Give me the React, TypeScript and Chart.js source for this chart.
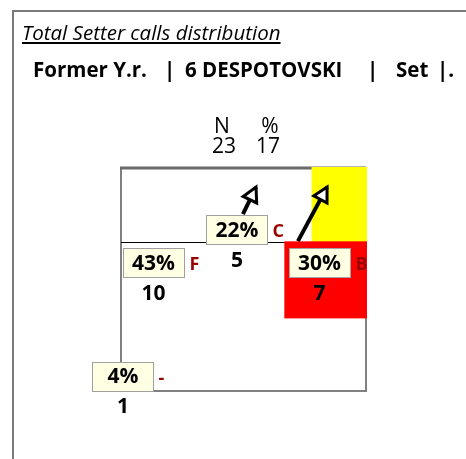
import { useEffect, useRef } from "react";
import { Chart, registerables } from "chart.js";

Chart.register(...registerables);

// Court is 9 m wide and 9 m deep; y = 9 is the net, y = 0 the end line.
const courtWidth = 9;
const courtDepth = 9;
const attackLineY = 6;

// Setter call zones
const zoneLetters = ["F", "C", "B", "-"];
const zonePercents = [43, 22, 30, 4];
const zoneCounts = [10, 5, 7, 1];
const zoneLabelX = [1.19, 4.26, 7.29, 0.07];
const zoneLabelY = [5.17, 6.5, 5.17, 0.59];

// Direction arrows
const arrowFromX = [4.48, 6.5];
const arrowFromY = [7.14, 6.05];
const arrowToX = [4.96, 7.57];
const arrowToY = [8.23, 8.23];

// Highlighted areas as [x0, x1, y0, y1]
const yellowArea = [7, 9, 6, 9];
const redArea = [6, 9, 2.93, 6];

const totalN = 23;
const totalPct = 17;

const FONT = '"Open Sans", "Noto Sans", sans-serif';

const courtPlugin = {
  id: "court",
  beforeDatasetsDraw(chart: any) {
    const { ctx, scales } = chart;
    const px = (v: number) => scales.x.getPixelForValue(v);
    const py = (v: number) => scales.y.getPixelForValue(v);
    ctx.save();
    // outline: sides and end line
    ctx.strokeStyle = "#808080";
    ctx.lineWidth = 2;
    ctx.beginPath();
    ctx.moveTo(px(0), py(courtDepth));
    ctx.lineTo(px(0), py(0));
    ctx.lineTo(px(courtWidth), py(0));
    ctx.lineTo(px(courtWidth), py(courtDepth));
    ctx.stroke();
    // net
    ctx.strokeStyle = "#6a6a6a";
    ctx.lineWidth = 3;
    ctx.beginPath();
    ctx.moveTo(px(0) - 1, py(courtDepth));
    ctx.lineTo(px(courtWidth), py(courtDepth));
    ctx.stroke();
    // attack line
    ctx.strokeStyle = "#000";
    ctx.lineWidth = 1;
    ctx.beginPath();
    ctx.moveTo(px(0), Math.round(py(attackLineY)) + 0.5);
    ctx.lineTo(px(courtWidth), Math.round(py(attackLineY)) + 0.5);
    ctx.stroke();
    // highlighted areas
    const fillArea = (a: number[], color: string) => {
      ctx.fillStyle = color;
      const x0 = px(a[0]);
      const x1 = px(a[1]) + 1;
      const y0 = py(a[3]) - 1;
      const y1 = py(a[2]);
      ctx.fillRect(x0, y0, x1 - x0, y1 - y0);
    };
    fillArea(yellowArea, "#ffff00");
    fillArea(redArea, "#ff0000");
    ctx.restore();
  },
  afterDatasetsDraw(chart: any) {
    const { ctx, scales } = chart;
    const px = (v: number) => scales.x.getPixelForValue(v);
    const py = (v: number) => scales.y.getPixelForValue(v);
    ctx.save();
    // arrow heads
    for (let i = 0; i < arrowToX.length; i++) {
      const x1 = px(arrowToX[i]);
      const y1 = py(arrowToY[i]);
      const x0 = px(arrowFromX[i]);
      const y0 = py(arrowFromY[i]);
      const len = Math.hypot(x1 - x0, y1 - y0);
      const ux = (x1 - x0) / len;
      const uy = (y1 - y0) / len;
      const headLen = 14;
      const half = 7.5;
      const bx = x1 - ux * headLen;
      const by = y1 - uy * headLen;
      ctx.beginPath();
      ctx.moveTo(x1, y1);
      ctx.lineTo(bx - uy * half, by + ux * half);
      ctx.lineTo(bx + uy * half, by - ux * half);
      ctx.closePath();
      ctx.fillStyle = "#fff";
      ctx.fill();
      ctx.lineJoin = "miter";
      ctx.lineWidth = 3;
      ctx.strokeStyle = "#000";
      ctx.stroke();
    }
    // zone labels
    const boxW = 61;
    const boxH = 29;
    ctx.textBaseline = "middle";
    for (let i = 0; i < zonePercents.length; i++) {
      const cx = px(zoneLabelX[i]);
      const cy = py(zoneLabelY[i]);
      const left = Math.round(cx - boxW / 2) + 0.5;
      const top = Math.round(cy - boxH / 2) + 0.5;
      ctx.fillStyle = "#ffffe3";
      ctx.fillRect(left, top, boxW, boxH);
      ctx.strokeStyle = "#a0a0a0";
      ctx.lineWidth = 1;
      ctx.strokeRect(left, top, boxW, boxH);
      ctx.fillStyle = "#000";
      ctx.textAlign = "center";
      ctx.font = `bold 21px ${FONT}`;
      ctx.fillText(`${zonePercents[i]}%`, cx, cy + 1);
      ctx.fillText(String(zoneCounts[i]), cx, cy + 31);
      ctx.fillStyle = "#990000";
      ctx.textAlign = "left";
      ctx.font = `bold 18px ${FONT}`;
      ctx.fillText(zoneLetters[i], left + boxW + 5, cy + 2);
    }
    ctx.restore();
  },
};

export default function App() {
  const canvasRef = useRef<HTMLCanvasElement | null>(null);

  useEffect(() => {
    if (!canvasRef.current) return;
    const arrowDatasets = arrowFromX.map((fx, i) => ({
      data: [
        { x: fx, y: arrowFromY[i] },
        { x: arrowToX[i], y: arrowToY[i] },
      ],
      showLine: true,
      borderColor: "#000",
      borderWidth: 4,
      pointRadius: 0,
      borderCapStyle: "butt" as const,
    }));
    const chart = new Chart(canvasRef.current, {
      type: "scatter",
      data: { datasets: arrowDatasets },
      options: {
        responsive: false,
        animation: false,
        events: [],
        layout: { padding: { left: 121, top: 168, right: 100, bottom: 68 } },
        plugins: { legend: { display: false }, tooltip: { enabled: false } },
        scales: {
          x: { type: "linear", min: 0, max: courtWidth, display: false },
          y: { type: "linear", min: 0, max: courtDepth, display: false },
        },
      },
      plugins: [courtPlugin],
    });
    return () => chart.destroy();
  }, []);

  const abs = (left: number, top: number, extra: any = {}) => ({
    position: "absolute" as const,
    left,
    top,
    whiteSpace: "pre" as const,
    lineHeight: "20px",
    fontFamily: FONT,
    color: "#000",
    ...extra,
  });
  const head = (left: number, text: string) => (
    <div style={abs(left, 59, { fontSize: 20.5, fontWeight: 700 })}>{text}</div>
  );

  return (
    <div
      style={{
        position: "absolute",
        left: 0,
        top: 0,
        width: 466,
        height: 459,
        overflow: "hidden",
        background: "#fff",
      }}
    >
      <canvas
        ref={canvasRef}
        width={466}
        height={459}
        style={{ position: "absolute", left: 0, top: 0 }}
      />
      <div
        style={{
          position: "absolute",
          left: 12,
          top: 10,
          width: 500,
          height: 500,
          border: "2px solid #7a7a7a",
          boxSizing: "border-box",
        }}
      />
      <div style={abs(22, 22, { fontSize: 20.5, fontStyle: "italic", textDecoration: "underline" })}>
        Total Setter calls distribution
      </div>
      {head(33, "Former Y.r.")}
      {head(164, "|")}
      {head(185, "6 DESPOTOVSKI")}
      {head(367, "|")}
      {head(396, "Set")}
      {head(437, "|.")}
      <div style={abs(200, 115, { fontSize: 21, width: 44, textAlign: "center" })}>N</div>
      <div style={abs(248, 115, { fontSize: 21, width: 44, textAlign: "center" })}>%</div>
      <div style={abs(202, 135, { fontSize: 21, width: 44, textAlign: "center" })}>{totalN}</div>
      <div style={abs(246, 135, { fontSize: 21, width: 44, textAlign: "center" })}>{totalPct}</div>
    </div>
  );
}
